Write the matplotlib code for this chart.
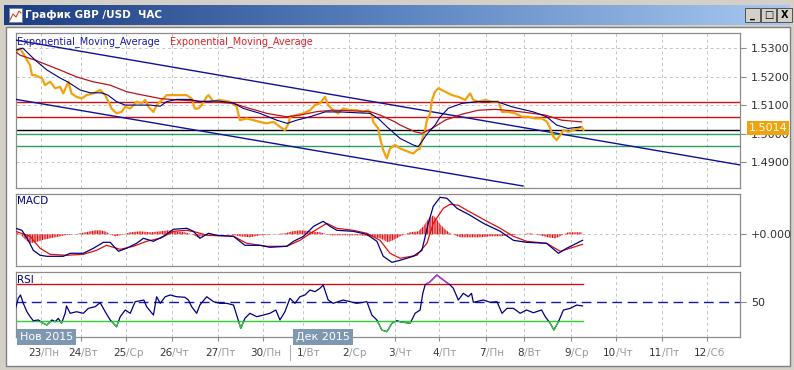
import matplotlib
matplotlib.use("Agg")
import matplotlib.pyplot as plt
import numpy as np
from matplotlib.colors import LinearSegmentedColormap
from matplotlib.patches import Rectangle
from matplotlib.transforms import blended_transform_factory

W, H = 794, 370

# ось времени: торговые дни от 23 ноября (0 = 23/Пн)
price_t = [-0.55, -0.46, -0.39, -0.31, -0.24, -0.20, -0.13, 0.02, 0.09, 0.20, 0.31, 0.42, 0.49, 0.60,
           0.67, 0.78, 0.89, 1.00, 1.15, 1.30, 1.41, 1.48, 1.55, 1.66, 1.77, 1.85, 1.96, 2.10, 2.21,
           2.29, 2.36, 2.47, 2.54, 2.62, 2.69, 2.76, 2.91, 3.06, 3.20, 3.31, 3.38, 3.46, 3.53, 3.64,
           3.68, 3.79, 3.93, 4.15, 4.30, 4.37, 4.52, 4.67, 4.81, 4.96, 5.11, 5.25, 5.36, 5.44, 5.47,
           5.62, 5.77, 5.91, 6.02, 6.13, 6.24, 6.31, 6.42, 6.53, 6.64, 6.79, 6.94, 7.08, 7.19, 7.27,
           7.30, 7.41, 7.45, 7.52, 7.60, 7.67, 7.78, 7.89, 8.07, 8.18, 8.26, 8.33, 8.37, 8.44, 8.48,
           8.55, 8.59, 8.66, 8.73, 8.88, 9.03, 9.17, 9.32, 9.43, 9.50, 9.61, 9.76, 9.91, 10.05, 10.13,
           10.27, 10.42, 10.57, 10.71, 10.86, 11.01, 11.12, 11.19, 11.26, 11.33, 11.41, 11.48, 11.59,
           11.70, 11.81, 11.88, 11.92]
price = [1.5288, 1.5300, 1.5282, 1.5259, 1.5241, 1.5206, 1.5206, 1.5195, 1.5171, 1.5183, 1.5160,
         1.5165, 1.5142, 1.5183, 1.5142, 1.5130, 1.5124, 1.5136, 1.5142, 1.5154, 1.5136, 1.5113,
         1.5089, 1.5072, 1.5077, 1.5095, 1.5089, 1.5113, 1.5107, 1.5119, 1.5095, 1.5077, 1.5101,
         1.5113, 1.5124, 1.5136, 1.5136, 1.5136, 1.5136, 1.5124, 1.5089, 1.5089, 1.5101, 1.5130,
         1.5136, 1.5113, 1.5119, 1.5113, 1.5095, 1.5048, 1.5054, 1.5048, 1.5042, 1.5037, 1.5042,
         1.5025, 1.5013, 1.5037, 1.5060, 1.5066, 1.5072, 1.5083, 1.5101, 1.5107, 1.5130, 1.5101,
         1.5083, 1.5072, 1.5089, 1.5083, 1.5083, 1.5077, 1.5083, 1.5066, 1.5042, 1.5019, 1.4984,
         1.4943, 1.4914, 1.4949, 1.4961, 1.4949, 1.4937, 1.4931, 1.4943, 1.4949, 1.4978, 1.5013,
         1.5048, 1.5072, 1.5119, 1.5148, 1.5160, 1.5148, 1.5136, 1.5130, 1.5119, 1.5142, 1.5119,
         1.5113, 1.5119, 1.5113, 1.5113, 1.5077, 1.5077, 1.5072, 1.5060, 1.5060, 1.5054, 1.5054,
         1.5042, 1.5019, 1.4990, 1.4978, 1.4996, 1.5013, 1.5007, 1.5013, 1.5019, 1.5025, 1.5014]

ema_fast_t = [-0.55, -0.40, -0.13, 0.13, 0.42, 0.59, 0.86, 1.08, 1.33, 1.47, 1.66, 1.85, 2.10, 2.40,
              2.62, 2.76, 2.98, 3.27, 3.49, 3.86, 4.22, 4.45, 4.81, 5.18, 5.41, 5.62, 5.91, 6.24,
              6.57, 6.94, 7.23, 7.41, 7.60, 7.89, 8.18, 8.29, 8.48, 8.66, 8.77, 8.95, 9.25, 9.58,
              10.02, 10.35, 10.82, 11.11, 11.33, 11.58, 11.85]
ema_fast = [1.5294, 1.5301, 1.5259, 1.5224, 1.5196, 1.5182, 1.5154, 1.5144, 1.5144, 1.5136, 1.5113,
            1.5101, 1.5101, 1.5101, 1.5097, 1.5113, 1.5121, 1.5121, 1.5113, 1.5116, 1.5109, 1.5089,
            1.5072, 1.5048, 1.5037, 1.5048, 1.5060, 1.5077, 1.5077, 1.5074, 1.5072, 1.5054, 1.5025,
            1.4984, 1.4961, 1.4955, 1.4999, 1.5031, 1.5059, 1.5090, 1.5107, 1.5113, 1.5113, 1.5095,
            1.5077, 1.5060, 1.5031, 1.5019, 1.5024]

ema_slow_t = [-0.55, -0.46, -0.13, 0.04, 0.42, 0.78, 1.14, 1.52, 1.88, 2.24, 2.62, 2.98, 3.34, 3.71,
              4.22, 4.59, 4.96, 5.40, 5.69, 6.06, 6.42, 6.86, 7.23, 7.45, 7.78, 7.89, 8.22, 8.37,
              8.59, 8.88, 9.25, 9.61, 9.98, 10.35, 10.71, 11.08, 11.44, 11.88]
ema_slow = [1.5287, 1.5276, 1.5259, 1.5248, 1.5224, 1.5200, 1.5183, 1.5171, 1.5148, 1.5136, 1.5124,
            1.5119, 1.5116, 1.5113, 1.5107, 1.5089, 1.5072, 1.5060, 1.5066, 1.5078, 1.5083, 1.5081,
            1.5078, 1.5066, 1.5042, 1.5031, 1.5007, 1.5002, 1.5019, 1.5048, 1.5069, 1.5083, 1.5086,
            1.5081, 1.5074, 1.5066, 1.5048, 1.5042]

# трендовый канал
trend_up_t, trend_up_p = [-0.55, 15.36], [1.5329, 1.4891]
trend_lo_t, trend_lo_p = [-0.55, 10.59], [1.5121, 1.4817]
# горизонтальные уровни
red_levels = [1.5111, 1.5058]
green_levels = [1.5001, 1.4957]
last_price = 1.5014
price_ticks = [1.4900, 1.5000, 1.5100, 1.5200, 1.5300]

# MACD
macd_t = [-0.56, -0.42, -0.28, -0.17, -0.02, 0.13, 0.49, 0.64, 0.93, 1.15, 1.37, 1.52, 1.70, 1.88,
          2.10, 2.25, 2.47, 2.69, 2.91, 3.20, 3.35, 3.49, 3.68, 3.86, 4.23, 4.48, 4.81, 5.03, 5.40,
          5.55, 5.77, 5.99, 6.20, 6.35, 6.50, 6.86, 7.16, 7.38, 7.52, 7.71, 7.89, 8.18, 8.37, 8.51,
          8.62, 8.77, 8.92, 9.14, 9.43, 9.72, 10.09, 10.38, 10.67, 11.11, 11.37, 11.55, 11.90]
macd = [0.0006, 0.0004, -0.0006, -0.0016, -0.0021, -0.0022, -0.0022, -0.0019, -0.0019, -0.0014,
        -0.0008, -0.0008, -0.0017, -0.0014, -0.0009, -0.0004, -0.0007, -0.0002, 0.0005, 0.0006,
        0.0003, -0.0004, 0.0001, -0.0001, -0.0002, -0.0011, -0.0011, -0.0013, -0.0012, -0.0007,
        -0.0002, 0.0008, 0.0013, 0.0008, 0.0004, 0.0003, 0.0000, -0.0007, -0.0022, -0.0028, -0.0026,
        -0.0022, -0.0016, 0.0011, 0.0028, 0.0037, 0.0036, 0.0026, 0.0019, 0.0011, 0.0003, -0.0006,
        -0.0008, -0.0009, -0.0019, -0.0014, -0.0006]
signal_t = [-0.56, -0.24, -0.02, 0.20, 0.56, 0.93, 1.22, 1.44, 1.74, 2.03, 2.32, 2.62, 2.91, 3.20,
            3.42, 3.64, 4.23, 4.52, 4.96, 5.40, 5.69, 5.99, 6.28, 6.50, 6.86, 7.16, 7.45, 7.67,
            7.89, 8.26, 8.48, 8.62, 8.84, 8.99, 9.17, 9.36, 9.80, 10.09, 10.38, 10.67, 11.11,
            11.41, 11.90]
signal = [0.0003, -0.0002, -0.0014, -0.0020, -0.0021, -0.0020, -0.0016, -0.0011, -0.0015, -0.0012,
          -0.0007, -0.0004, 0.0003, 0.0004, 0.0002, -0.0001, -0.0002, -0.0009, -0.0012, -0.0012,
          -0.0006, 0.0003, 0.0011, 0.0006, 0.0004, 0.0001, -0.0006, -0.0019, -0.0024, -0.0021,
          -0.0009, 0.0011, 0.0026, 0.0030, 0.0029, 0.0024, 0.0013, 0.0006, -0.0002, -0.0007,
          -0.0009, -0.0017, -0.0010]
osma_t = [-0.56, -0.46, -0.35, -0.24, -0.13, 0.09, 0.31, 0.53, 0.75, 0.97, 1.19, 1.30, 1.41, 1.52,
          1.63, 1.74, 1.96, 2.18, 2.40, 2.62, 2.79, 2.95, 3.16, 3.32, 3.43, 3.60, 3.82, 4.15, 4.37,
          4.59, 4.81, 5.14, 5.36, 5.52, 5.69, 5.91, 6.13, 6.35, 6.68, 7.01, 7.23, 7.45, 7.63, 7.78,
          7.89, 8.11, 8.29, 8.40, 8.51, 8.62, 8.70, 8.77, 8.88, 8.99, 9.10, 9.21, 9.43, 9.65, 9.87,
          10.09, 10.31, 10.53, 10.75, 10.97, 11.14, 11.30, 11.45, 11.58, 11.74, 11.89]
osma = [0.0002, 0.0, -0.0005, -0.0009, -0.0008, -0.0005, -0.0003, -0.0001, 0.0, 0.0002, 0.0004,
        0.0004, 0.0003, 0.0, -0.0002, -0.0001, 0.0002, 0.0003, 0.0002, 0.0003, 0.0004, 0.0003,
        0.0002, 0.0, -0.0003, -0.0001, 0.0, 0.0, -0.0002, -0.0003, -0.0001, 0.0, 0.0001, 0.0003,
        0.0004, 0.0003, 0.0002, -0.0001, -0.0001, -0.0001, -0.0002, -0.0004, -0.0008, -0.0005,
        -0.0002, 0.0002, 0.0003, 0.0008, 0.0015, 0.0019, 0.0015, 0.0010, 0.0005, 0.0001, -0.0001,
        -0.0003, -0.0003, -0.0003, -0.0002, -0.0002, -0.0001, 0.0, 0.0001, -0.0001, -0.0003,
        -0.0004, -0.0001, 0.0002, 0.0002, 0.0002]

# RSI
rsi_t = [-0.56, -0.50, -0.45, -0.39, -0.31, -0.24, -0.17, -0.06, 0.05, 0.13, 0.24, 0.31, 0.38, 0.45,
         0.53, 0.56, 0.64, 0.78, 0.93, 1.04, 1.19, 1.30, 1.41, 1.52, 1.66, 1.74, 1.85, 1.96, 2.07,
         2.18, 2.26, 2.32, 2.47, 2.54, 2.62, 2.73, 2.84, 2.98, 3.16, 3.24, 3.31, 3.42, 3.49, 3.64,
         3.79, 3.93, 4.08, 4.23, 4.31, 4.39, 4.48, 4.59, 4.74, 4.89, 5.03, 5.16, 5.25, 5.36, 5.47,
         5.58, 5.69, 5.80, 5.91, 6.02, 6.13, 6.20, 6.31, 6.42, 6.53, 6.64, 6.79, 6.94, 7.16, 7.27,
         7.38, 7.49, 7.60, 7.71, 7.82, 7.89, 8.11, 8.22, 8.33, 8.39, 8.44, 8.55, 8.70, 8.84, 8.99,
         9.06, 9.17, 9.28, 9.39, 9.46, 9.50, 9.72, 9.87, 10.02, 10.13, 10.24, 10.38, 10.53, 10.67,
         10.82, 11.00, 11.08, 11.19, 11.27, 11.37, 11.48, 11.63, 11.77, 11.90]
rsi = [43.4, 54.4, 58.0, 48.9, 39.7, 34.3, 29.9, 30.7, 27.0, 25.2, 30.7, 28.8, 32.5, 27.0, 38.0,
       46.0, 38.0, 39.7, 38.0, 43.4, 45.2, 49.6, 39.7, 30.7, 23.3, 34.3, 41.6, 38.0, 50.7, 51.7,
       52.5, 45.2, 36.1, 56.1, 48.9, 56.1, 58.0, 56.1, 55.5, 52.5, 45.2, 38.0, 47.0, 56.1, 50.7,
       48.9, 48.9, 47.0, 34.3, 21.6, 32.5, 38.0, 34.3, 36.1, 38.0, 41.6, 30.7, 39.7, 54.4, 48.9,
       56.1, 58.0, 63.4, 61.6, 65.3, 68.9, 52.5, 48.9, 50.7, 52.5, 50.7, 48.9, 50.7, 36.1, 30.7,
       19.7, 17.9, 27.0, 29.9, 28.8, 27.0, 38.0, 41.6, 59.8, 68.9, 72.5, 79.8, 74.4, 68.9, 65.3,
       52.5, 59.8, 56.1, 59.8, 50.0, 52.5, 50.0, 50.7, 38.0, 43.4, 43.4, 38.0, 41.6, 38.6, 41.6,
       34.3, 27.0, 19.7, 28.8, 41.6, 43.4, 47.0, 46.0]

# подписи оси времени
day_t = [0.0, 0.88, 1.87, 2.88, 3.89, 4.88, 5.76, 6.77, 7.78, 8.75, 9.78, 10.62, 11.65, 12.64,
         13.65, 14.64]
day_num = ["23", "24", "25", "26", "27", "30", "1", "2", "3", "4", "7", "8", "9", "10", "11", "12"]
day_name = ["Пн", "Вт", "Ср", "Чт", "Пт", "Пн", "Вт", "Ср", "Чт", "Пт", "Пн", "Вт", "Ср", "Чт",
            "Пт", "Сб"]
month_t = [-0.46, 5.60]
month_lbl = ["Нов 2015", "Дек 2015"]
month_sep_t = 5.47

XLIM = (-0.55, 15.36)
NAVY = "#000080"
GRID = "#c4c4c4"
FRAME = "#8c8c8c"

plt.rcParams["font.family"] = ["DejaVu Sans"]
plt.rcParams["hatch.linewidth"] = 0.8
plt.rcParams["hatch.color"] = "#e01010"

fig = plt.figure(figsize=(W / 100, H / 100), dpi=100, facecolor="#d4d0c8")

# окно терминала (рамка, заголовок)
bg = fig.add_axes([0, 0, 1, 1], zorder=0)
bg.set_xlim(0, W)
bg.set_ylim(H, 0)
bg.axis("off")
bg.add_patch(Rectangle((6, 27), 784, 339, facecolor="white", edgecolor="#808080", lw=1))
grad = np.linspace(0, 1, 256).reshape(1, -1)
title_cmap = LinearSegmentedColormap.from_list("tb", ["#1c3c82", "#5c84c0", "#a8c8f0"])
bg.imshow(grad, cmap=title_cmap, extent=(4, 790, 25, 5), aspect="auto", zorder=1)
bg.add_patch(Rectangle((9, 8), 13, 14, facecolor="white", edgecolor="#7080a0", lw=0.6, zorder=2))
bg.plot([10, 13, 16, 19, 21], [20, 14, 17, 11, 13], color="#d04020", lw=0.8, zorder=3)
bg.text(25, 15, "График GBP /USD  ЧАС", color="white", fontsize=7.5, fontweight="bold",
        va="center", ha="left", zorder=3)
for x0, sym in [(745, "_"), (761, "□"), (777, "X")]:
    bg.add_patch(Rectangle((x0, 8), 15, 14, facecolor="#d4d0c8", edgecolor="#404040",
                           lw=0.6, zorder=2))
    bg.text(x0 + 7.5, 15, sym, fontsize=7, fontweight="bold", ha="center", va="center",
            color="black", zorder=3)


def panel(top, bottom):
    ax = fig.add_axes([16 / W, 1 - bottom / H, 724 / W, (bottom - top) / H], zorder=2)
    ax.set_facecolor("white")
    for s in ax.spines.values():
        s.set_color(FRAME)
        s.set_linewidth(0.9)
    ax.set_xlim(*XLIM)
    for t in day_t:
        ax.axvline(t, color=GRID, ls=(0, (3, 3)), lw=0.7, zorder=0)
    ax.yaxis.tick_right()
    ax.tick_params(axis="y", length=4, color=FRAME, labelsize=8, labelcolor="#303030", pad=4)
    ax.set_xticks([])
    return ax


# основной график
ax = panel(33, 188)
ax.set_ylim(1.4810, 1.5354)
ax.set_yticks(price_ticks)
ax.set_yticklabels([f"{v:.4f}" for v in price_ticks])
for v in price_ticks:
    ax.axhline(v, color=GRID, ls=(0, (3, 3)), lw=0.7, zorder=0)
for v in red_levels:
    ax.axhline(v, color="#d01010", lw=1.0, zorder=2)
for v in green_levels:
    ax.axhline(v, color="#2e9e64", lw=1.0, zorder=2)
ax.axhline(last_price, color="black", lw=1.0, zorder=2)
ax.plot(trend_up_t, trend_up_p, color="#10109a", lw=1.0, zorder=3)
ax.plot(trend_lo_t, trend_lo_p, color="#10109a", lw=1.0, zorder=3)
ax.plot(price_t, price, color="#f2a20c", lw=1.6, zorder=4)
ax.plot(ema_slow_t, ema_slow, color="#b8141c", lw=0.9, zorder=5)
ax.plot(ema_fast_t, ema_fast, color=NAVY, lw=0.8, zorder=5)
ax.text(0.002, 0.942, "Exponential_Moving_Average", transform=ax.transAxes, color="#1a1aa8",
        fontsize=7, va="center", ha="left", zorder=6)
ax.text(0.2127, 0.942, "Exponential_Moving_Average", transform=ax.transAxes, color="#e0202a",
        fontsize=7, va="center", ha="left", zorder=6)
ax.annotate(f"{last_price:.4f}", xy=(1, last_price), xycoords=("axes fraction", "data"),
            xytext=(9, 2), textcoords="offset pixels", ha="left", va="center", color="white",
            fontsize=8, bbox=dict(boxstyle="square,pad=0.15", fc="#f0a30a", ec="none"),
            annotation_clip=False, zorder=7)

# MACD
am = panel(194, 266)
am.set_ylim(-0.00317, 0.00403)
am.set_yticks([0])
am.set_yticklabels(["+0.000"])
am.axhline(0, color=GRID, ls=(0, (3, 3)), lw=0.7, zorder=0)
am.fill_between(osma_t, 0, osma, facecolor="none", edgecolor="#e01010", hatch="||||||||||",
                linewidth=0, zorder=2)
am.plot(signal_t, signal, color="#e01010", lw=0.9, zorder=3)
am.plot(macd_t, macd, color=NAVY, lw=0.9, zorder=4)
am.text(0.002, 0.9, "MACD", transform=am.transAxes, color=NAVY, fontsize=7.5, va="center")

# RSI
ar = panel(272, 337)
ar.set_ylim(12.1, 83.1)
ar.set_yticks([50])
ar.set_yticklabels(["50"])
ar.axhline(50, color="#1a1aa0", lw=1.0, ls=(0, (7, 4)), zorder=1)
ar.plot([rsi_t[0], rsi_t[-1]], [70, 70], color="#d01010", lw=1.0, zorder=2)
ar.plot([rsi_t[0], rsi_t[-1]], [30, 30], color="#30d030", lw=1.0, zorder=2)
ar.plot(rsi_t, rsi, color=NAVY, lw=0.9, zorder=3)
hi = ar.plot(rsi_t, rsi, color="#cc33cc", lw=0.9, zorder=4)[0]
hi.set_clip_path(Rectangle((XLIM[0], 70), XLIM[1] - XLIM[0], 50, transform=ar.transData))
lo = ar.plot(rsi_t, rsi, color="#30d030", lw=0.9, zorder=4)[0]
lo.set_clip_path(Rectangle((XLIM[0], 0), XLIM[1] - XLIM[0], 30, transform=ar.transData))
ar.text(0.002, 0.88, "RSI", transform=ar.transAxes, color=NAVY, fontsize=7.5, va="center")

ar.set_xticks(day_t)
ar.set_xticklabels([])
ar.tick_params(axis="x", length=3, color=FRAME)
trans = blended_transform_factory(ar.transData, ar.transAxes)
for t, n, d in zip(day_t, day_num, day_name):
    ar.annotate(n, xy=(t, 0), xycoords=trans, xytext=(0, -16), textcoords="offset pixels",
                ha="right", va="center", fontsize=7.5, color="#383838", annotation_clip=False)
    ar.annotate("/" + d, xy=(t, 0), xycoords=trans, xytext=(0, -16), textcoords="offset pixels",
                ha="left", va="center", fontsize=7.5, color="#9a9a9a", annotation_clip=False)
for t, lbl in zip(month_t, month_lbl):
    ar.annotate(lbl, xy=(t, 0), xycoords=trans, xytext=(0, 0), textcoords="offset pixels",
                ha="left", va="center", fontsize=8, color="white", annotation_clip=False,
                bbox=dict(boxstyle="square,pad=0.25", fc="#7f98b2", ec="none"), zorder=6)
ar.plot([month_sep_t, month_sep_t], [-0.12, -0.35], transform=trans, clip_on=False,
        color="#b0b0b0", lw=0.8)

fig.savefig("out.png", dpi=100, facecolor=fig.get_facecolor())
